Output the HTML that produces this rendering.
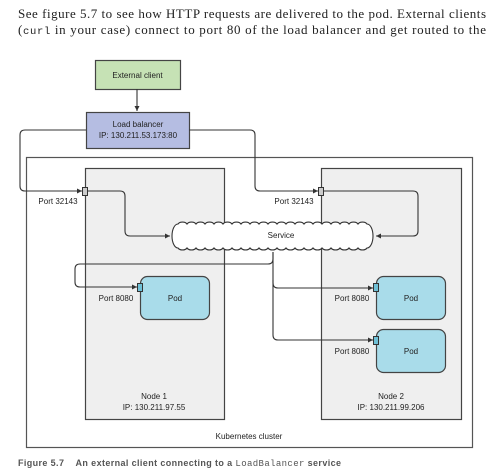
<!DOCTYPE html>
<html><head><meta charset="utf-8"><style>
html,body{margin:0;padding:0;background:#fff;width:499px;height:474px;overflow:hidden}
</style></head><body>
<svg width="499" height="474" viewBox="0 0 499 474" xmlns="http://www.w3.org/2000/svg" style="display:block">
<defs>
<marker id="a" markerWidth="6" markerHeight="6" refX="5" refY="3" orient="auto" markerUnits="userSpaceOnUse"><path d="M0,0.5 L5,3 L0,5.5z" fill="#333"/></marker>
</defs>
<g font-family="Liberation Serif, serif" font-size="13" fill="#222">
<text x="18" y="18" textLength="468" lengthAdjust="spacing">See figure 5.7 to see how HTTP requests are delivered to the pod. External clients</text>
<text x="18" y="34" textLength="468" lengthAdjust="spacing">(<tspan font-family="Liberation Mono, monospace" font-size="10.5">curl</tspan> in your case) connect to port 80 of the load balancer and get routed to the</text>
</g>
<rect x="26.5" y="157.5" width="446" height="290" fill="#fff" stroke="#555" stroke-width="1.2"/>
<rect x="85.5" y="168.5" width="139" height="251" fill="#efefef" stroke="#444" stroke-width="1.2"/>
<rect x="321.5" y="168.5" width="140" height="251" fill="#efefef" stroke="#444" stroke-width="1.2"/>
<rect x="95.5" y="60.5" width="85" height="29" fill="#c6e2b5" stroke="#444" stroke-width="1.2"/>
<rect x="86.5" y="112.5" width="103" height="36" fill="#b5bde2" stroke="#444" stroke-width="1.2"/>
<g fill="none" stroke="#333" stroke-width="1.1">
<path d="M137,89 V111" marker-end="url(#a)"/>
<path d="M86,130 H25 Q20,130 20,135 V186 Q20,191 25,191 H82" marker-end="url(#a)"/>
<path d="M87,191 H120 Q125,191 125,196 V231 Q125,236 130,236 H170" marker-end="url(#a)"/>
<path d="M189,130 H250 Q255,130 255,135 V186 Q255,191 260,191 H318" marker-end="url(#a)"/>
<path d="M323,191 H413 Q418,191 418,196 V231 Q418,236 413,236 H376" marker-end="url(#a)"/>
<path d="M273,252 V259 Q273,264 268,264 H80 Q75,264 75,269 V282 Q75,287 80,287 H137" marker-end="url(#a)"/>
<path d="M273,252 V283 Q273,288 278,288 H373" marker-end="url(#a)"/>
<path d="M273,280 V335 Q273,340 278,340 H373" marker-end="url(#a)"/>
</g>
<path id="cl" d="" fill="#fff" stroke="#333" stroke-width="1.1"/>
<script>
(function(){var d="M178,248 a6,12 0 0 1 0,-24";for(var i=0;i<21;i++)d+=" a5,3.5 0 0 1 9,0";d+=" a6,12 0 0 1 0,24";for(var i=0;i<21;i++)d+=" a5,3.5 0 0 1 -9,0";d+="z";document.getElementById("cl").setAttribute("d",d);})();
</script>
<rect x="140.5" y="276.5" width="69" height="43" rx="7" fill="#a9dcea" stroke="#444" stroke-width="1.2"/>
<rect x="376.5" y="276.5" width="69" height="43" rx="7" fill="#a9dcea" stroke="#444" stroke-width="1.2"/>
<rect x="376.5" y="329.5" width="69" height="43" rx="7" fill="#a9dcea" stroke="#444" stroke-width="1.2"/>
<g stroke="#333" stroke-width="1">
<rect x="82.5" y="187.5" width="5" height="8" fill="#ccc"/>
<rect x="318.5" y="187.5" width="5" height="8" fill="#ccc"/>
<rect x="137.5" y="283.5" width="5" height="8" fill="#6fc0d6"/>
<rect x="373.5" y="283.5" width="5" height="8" fill="#6fc0d6"/>
<rect x="373.5" y="336.5" width="5" height="8" fill="#6fc0d6"/>
</g>
<g font-family="Liberation Sans, sans-serif" font-size="8" fill="#222" text-anchor="middle">
<text x="137.5" y="78">External client</text>
<text x="138" y="127">Load balancer</text>
<text x="138" y="138">IP: 130.211.53.173:80</text>
<text x="58" y="204">Port 32143</text>
<text x="294" y="204">Port 32143</text>
<text x="281" y="238">Service</text>
<text x="116" y="301">Port 8080</text>
<text x="352" y="301">Port 8080</text>
<text x="352" y="354">Port 8080</text>
<text x="175" y="301">Pod</text>
<text x="411" y="301">Pod</text>
<text x="411" y="354">Pod</text>
<text x="154" y="399">Node 1</text>
<text x="154" y="410">IP: 130.211.97.55</text>
<text x="391" y="399">Node 2</text>
<text x="391" y="410">IP: 130.211.99.206</text>
<text x="249" y="439">Kubernetes cluster</text>
</g>
<text x="18" y="466" font-family="Liberation Sans, sans-serif" font-size="9" font-weight="bold" fill="#555" textLength="323" lengthAdjust="spacing" xml:space="preserve">Figure 5.7    An external client connecting to a <tspan font-family="Liberation Mono, monospace" font-weight="normal">LoadBalancer</tspan> service</text>
</svg>
</body></html>
